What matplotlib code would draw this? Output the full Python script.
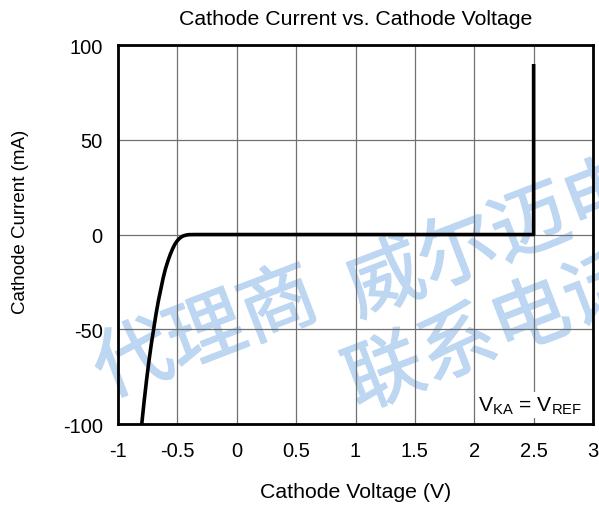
import matplotlib.pyplot as plt
import matplotlib.patheffects as pe

plt.rcParams['font.family'] = ['Liberation Sans', 'DejaVu Sans']
plt.rcParams['axes.unicode_minus'] = False

# Curve (V, mA)
voltage = [-0.80, -0.78, -0.76, -0.74, -0.72, -0.70, -0.68, -0.66, -0.64, -0.62,
           -0.60, -0.58, -0.56, -0.54, -0.52, -0.50, -0.48, -0.46, -0.44, -0.42,
           -0.40, -0.35, 0.0, 1.0, 2.0, 2.5, 2.5]
current = [-100, -88, -77, -67, -58, -50, -42, -35, -29, -23,
           -18, -14, -10.5, -7.5, -5, -3.2, -1.9, -1.0, -0.5, -0.2,
           -0.05, 0, 0, 0, 0, 0, 90]

x_ticks = [-1, -0.5, 0, 0.5, 1, 1.5, 2, 2.5, 3]
x_tick_labels = ['-1', '-0.5', '0', '0.5', '1', '1.5', '2', '2.5', '3']
y_ticks = [-100, -50, 0, 50, 100]

fig = plt.figure(figsize=(5.99, 5.06), dpi=100)
ax = fig.add_axes([0.197, 0.160, 0.793, 0.749])
ax.set_facecolor('none')

ax.plot(voltage, current, color='black', linewidth=2.6, zorder=5,
        solid_capstyle='butt', solid_joinstyle='round')

ax.set_xlim(-1, 3)
ax.set_ylim(-100, 100)
ax.set_xticks(x_ticks)
ax.set_xticklabels(x_tick_labels)
ax.set_yticks(y_ticks)
ax.tick_params(length=0, labelsize=14.5)
ax.tick_params(axis='x', pad=12)
ax.tick_params(axis='y', pad=11)
ax.grid(True, color='#707070', linewidth=0.9)
ax.set_axisbelow(True)
for s in ax.spines.values():
    s.set_linewidth(2)

ax.set_title('Cathode Current vs. Cathode Voltage', fontsize=15.3, pad=15)
ax.set_xlabel('Cathode Voltage (V)', fontsize=15.3, labelpad=16)
ax.set_ylabel('Cathode Current (mA)', fontsize=13.5)
ax.yaxis.set_label_coords(-0.188, 0.536)

ax.text(2.907, -92.9, r'V$_{\mathregular{KA}}$ = V$_{\mathregular{REF}}$', fontsize=15.2,
        ha='right', va='baseline', zorder=6,
        bbox=dict(facecolor='white', edgecolor='none', pad=1.5))

# watermark, drawn below the (transparent) axes
wm_color = '#bdd6f1'
wm_kw = dict(color=wm_color, fontsize=56, rotation=21,
             rotation_mode='anchor', family=['Noto Sans CJK SC'],
             ha='center', va='center', zorder=-1,
             path_effects=[pe.withStroke(linewidth=1.0, foreground=wm_color)])
fig.text(0.345, 0.336, '代理商', **wm_kw)
fig.text(0.826, 0.523, '威尔迈电', **wm_kw)
fig.text(0.826, 0.338, '联系电话', **wm_kw)

fig.savefig('out.png', dpi=100)
